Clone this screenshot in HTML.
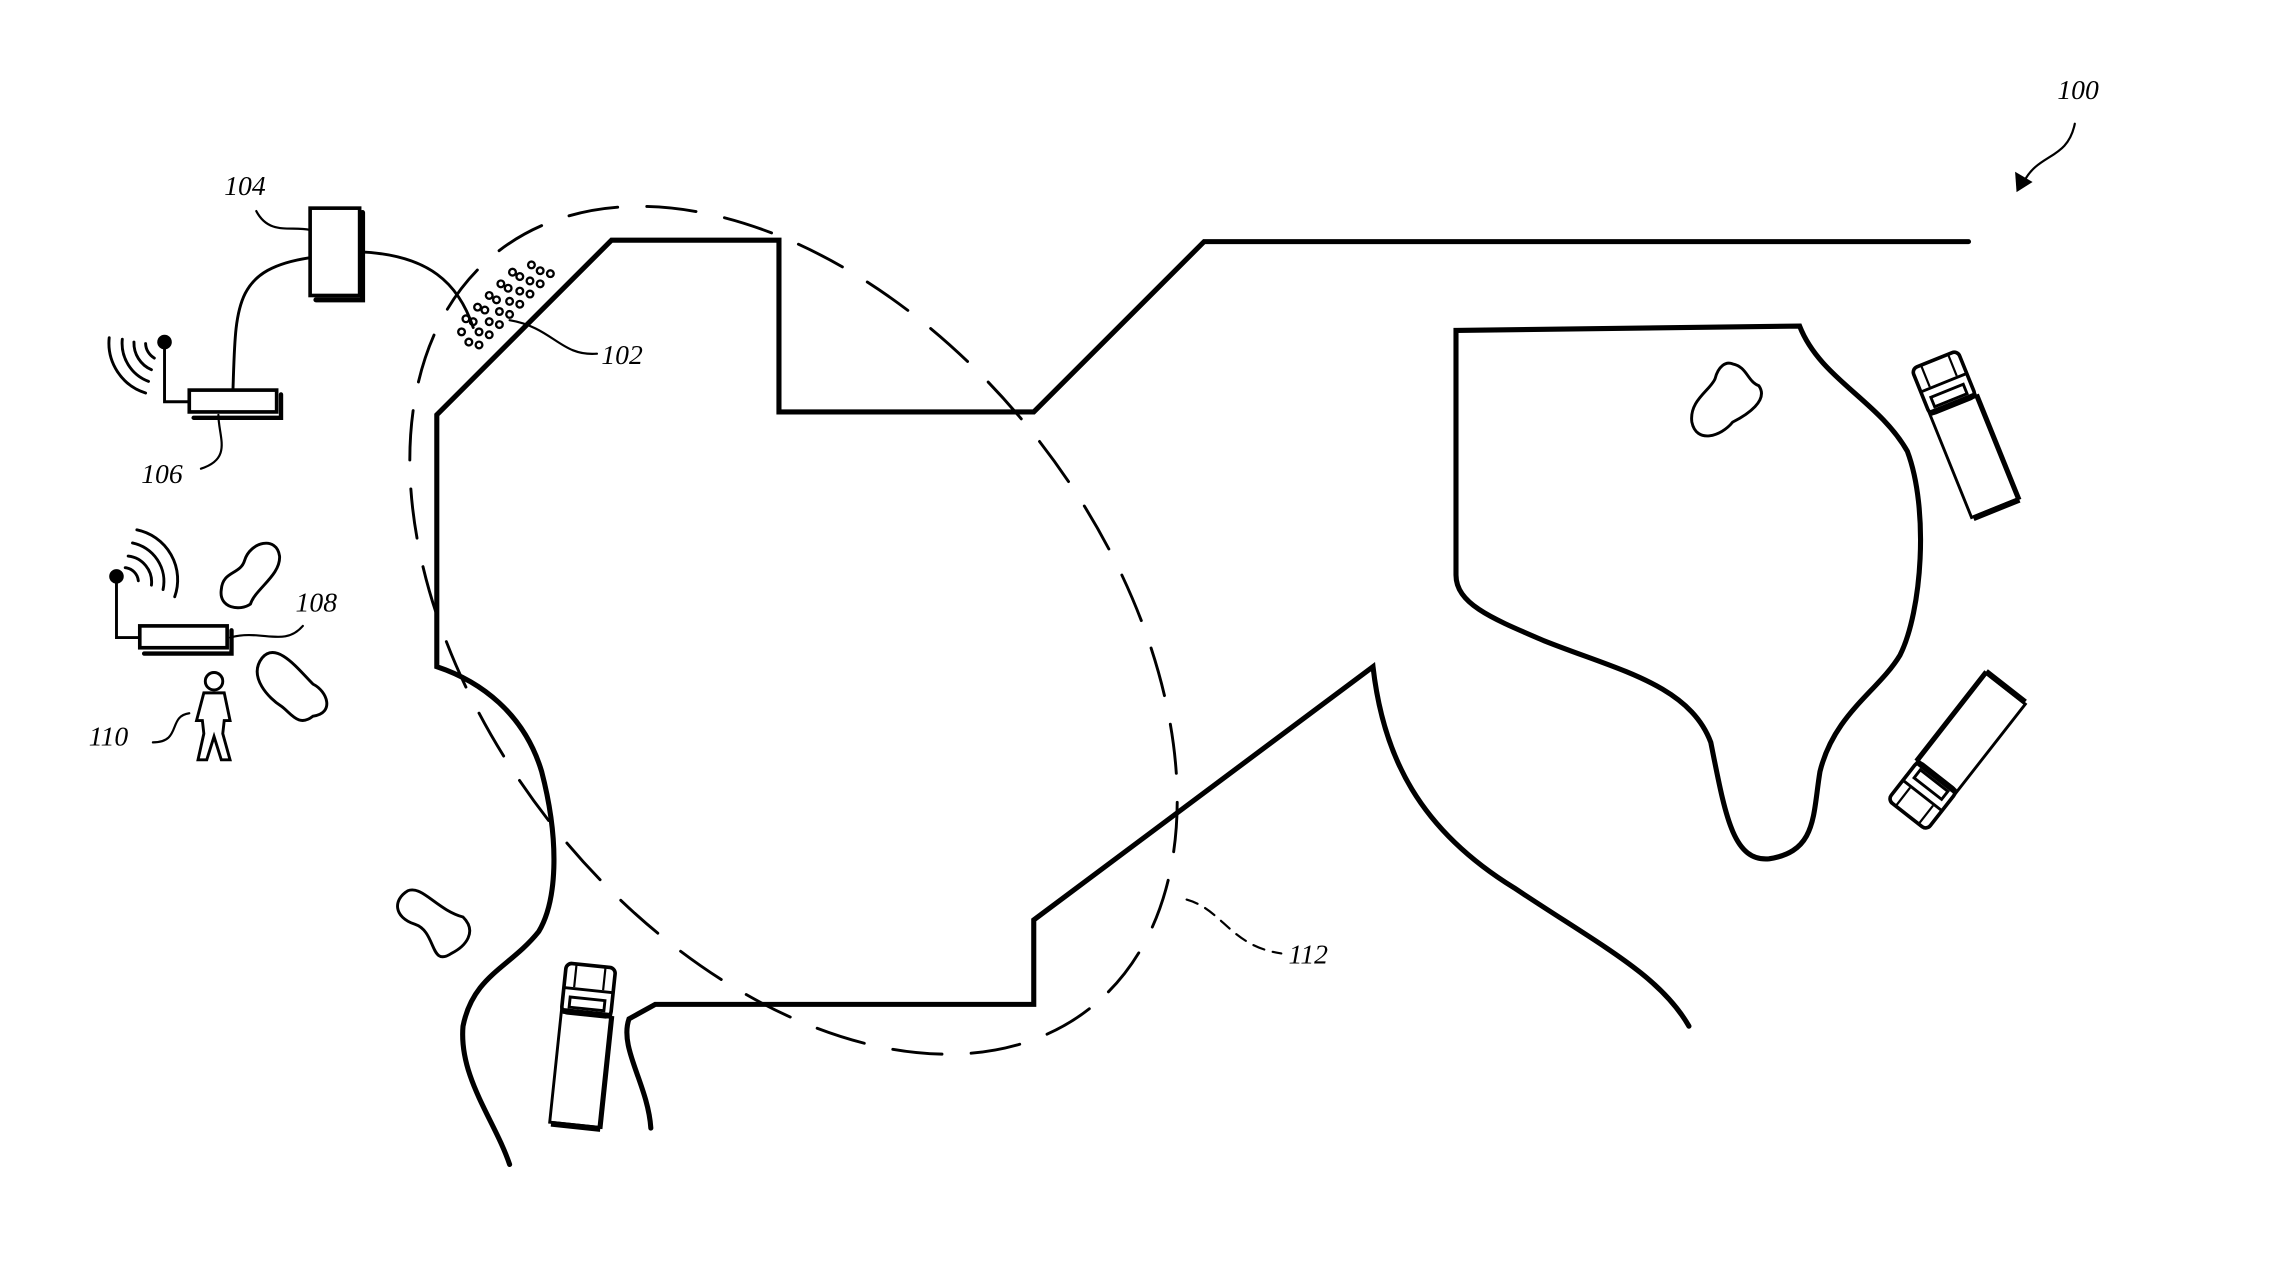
<!DOCTYPE html>
<html><head><meta charset="utf-8"><style>html,body{margin:0;padding:0;background:#fff}svg{display:block}</style></head><body>
<svg width="2283" height="1262" viewBox="0 0 1568 867" preserveAspectRatio="none" xmlns="http://www.w3.org/2000/svg">
<defs>
<g id="truck">
<rect x="-17" y="-25" width="34" height="78" fill="#fff" stroke="#000" stroke-width="2"/>
<line x1="18" y1="-24" x2="18" y2="54" stroke="#000" stroke-width="3"/>
<line x1="-16" y1="54" x2="18" y2="54" stroke="#000" stroke-width="4"/>
<rect x="-17" y="-57" width="34" height="34" rx="4" fill="#fff" stroke="#000" stroke-width="2.5"/>
<line x1="-16" y1="-40" x2="16" y2="-40" stroke="#000" stroke-width="2"/>
<rect x="-12" y="-34" width="24" height="7" fill="#fff" stroke="#000" stroke-width="2"/>
<line x1="-10" y1="-56" x2="-10" y2="-41" stroke="#000" stroke-width="1.5"/>
<line x1="10" y1="-56" x2="10" y2="-41" stroke="#000" stroke-width="1.5"/>
<line x1="-16" y1="-24" x2="17" y2="-24" stroke="#000" stroke-width="4"/>
</g>
</defs>
<g fill="none" stroke="#000" stroke-linecap="round" stroke-linejoin="miter">
<path d="M1352,166 L827,166 L710,283 L535,283 L535,165 L420,165 L300,285 L300,458 C330,468 360,490 372,530 C385,580 382,620 370,640 C350,665 325,670 318,705 C315,740 340,770 350,800" stroke-width="3.5"/>
<path d="M447,775 C445,745 425,720 432,700 L450,690 L710,690 L710,632 L943,458 C950,520 975,570 1040,610 C1100,650 1140,670 1160,705" stroke-width="3.5"/>
<path d="M1000,227 L1236,224 C1250,260 1290,275 1310,310 C1325,350 1320,420 1305,450 C1290,475 1260,490 1250,530 C1245,560 1248,585 1215,590 C1190,592 1185,560 1175,510 C1160,470 1110,460 1060,440 C1025,425 1000,415 1000,395 Z" stroke-width="3.5"/>
<ellipse cx="545" cy="433" rx="330" ry="213" transform="rotate(52 545 433)" stroke-width="2" stroke-dasharray="34 20"/>
<path d="M815,618 C840,625 845,650 880,655" stroke-width="1.5" stroke-dasharray="8 6"/>
<path d="M350,220 C380,225 385,245 410,243" stroke-width="1.5"/>
<path d="M1425,85 C1420,110 1400,105 1390,125" stroke-width="1.5"/>
<path d="M176,145 C185,162 200,155 213,158" stroke-width="1.5"/>
<path d="M213,177 C160,185 162,210 160,268" stroke-width="2"/>
<path d="M247,173 C295,175 315,195 325,225" stroke-width="2"/>
<path d="M150,285 C150,300 160,315 138,322" stroke-width="1.5"/>
<path d="M158,438 C180,432 195,445 208,430" stroke-width="1.5"/>
<path d="M130,490 C115,492 125,510 105,510" stroke-width="1.5"/>
<path d="M168,385 C172,372 190,368 192,382 C193,395 175,405 172,415 C165,420 150,418 152,405 C153,392 165,395 168,385 Z" stroke-width="2"/>
<path d="M180,452 C190,440 205,460 215,470 C225,475 230,490 215,492 C205,500 200,490 193,485 C185,480 170,465 180,452 Z" stroke-width="2"/>
<path d="M280,612 C290,608 300,625 318,630 C328,640 320,650 310,655 C295,665 300,640 285,635 C270,630 270,618 280,612 Z" stroke-width="2"/>
<path d="M1190,250 C1200,252 1200,262 1208,265 C1215,275 1200,285 1190,290 C1182,300 1165,305 1162,290 C1160,275 1175,268 1178,260 C1180,252 1185,248 1190,250 Z" stroke-width="2"/>
<rect x="213" y="143" width="34" height="60" fill="#fff" stroke-width="2.5"/>
<path d="M249,146 L249,206 L217,206" stroke-width="3.5"/>
<rect x="130" y="268" width="60" height="15" fill="#fff" stroke-width="2.5"/>
<path d="M193,271 L193,287 L133,287" stroke-width="3"/>
<path d="M130,276 L113,276 L113,236" stroke-width="2"/>
<rect x="96" y="430" width="60" height="15" fill="#fff" stroke-width="2.5"/>
<path d="M159,433 L159,449 L99,449" stroke-width="3"/>
<path d="M96,438 L80,438 L80,397" stroke-width="2"/>
<g stroke-width="2">
<path d="M106,246 A12,12 0 0 1 100,236"/><path d="M104,254 A20,20 0 0 1 92,235"/><path d="M102,262 A28,28 0 0 1 84,233"/><path d="M100,270 A36,36 0 0 1 75,232"/>
<path d="M86,390 A10,10 0 0 1 95,399"/><path d="M88,382 A18,18 0 0 1 104,402"/><path d="M91,373 A27,27 0 0 1 112,405"/><path d="M94,364 A35,35 0 0 1 120,410"/>
</g>
<circle cx="147" cy="468" r="6" fill="#fff" stroke-width="2"/>
<path d="M140,476 L154,476 L158,495 L154,495 L153,504 L158,522 L152,522 L147,506 L142,522 L136,522 L140,504 L139,495 L135,495 Z" fill="#fff" stroke-width="2"/>
</g>
<circle cx="113" cy="235" r="5" fill="#000"/>
<circle cx="80" cy="396" r="5" fill="#000"/>
<g fill="none" stroke="#000" stroke-width="1.6">
<circle cx="378" cy="188" r="2.3"/><circle cx="371" cy="195" r="2.3"/><circle cx="364" cy="202" r="2.3"/><circle cx="357" cy="209" r="2.3"/><circle cx="350" cy="216" r="2.3"/><circle cx="343" cy="223" r="2.3"/><circle cx="336" cy="230" r="2.3"/><circle cx="329" cy="237" r="2.3"/>
<circle cx="371" cy="186" r="2.3"/><circle cx="364" cy="193" r="2.3"/><circle cx="357" cy="200" r="2.3"/><circle cx="350" cy="207" r="2.3"/><circle cx="343" cy="214" r="2.3"/><circle cx="336" cy="221" r="2.3"/><circle cx="329" cy="228" r="2.3"/><circle cx="322" cy="235" r="2.3"/>
<circle cx="365" cy="182" r="2.3"/><circle cx="357" cy="190" r="2.3"/><circle cx="349" cy="198" r="2.3"/><circle cx="341" cy="206" r="2.3"/><circle cx="333" cy="213" r="2.3"/><circle cx="325" cy="221" r="2.3"/><circle cx="317" cy="228" r="2.3"/>
<circle cx="352" cy="187" r="2.3"/><circle cx="344" cy="195" r="2.3"/><circle cx="336" cy="203" r="2.3"/><circle cx="328" cy="211" r="2.3"/><circle cx="320" cy="219" r="2.3"/>
</g>
<path d="M1385,132 L1384,118 L1396,125 Z" fill="#000"/>
<use href="#truck" transform="translate(1350,300) rotate(-22)"/>
<use href="#truck" transform="translate(1345,515) rotate(218)"/>
<use href="#truck" transform="translate(400,720) rotate(6)"/>
<g font-family="Liberation Serif, serif" font-style="italic" font-size="19" fill="#000">
<text x="1413" y="68">100</text>
<text x="154" y="134">104</text>
<text x="413" y="250">102</text>
<text x="97" y="332">106</text>
<text x="203" y="420">108</text>
<text x="61" y="512">110</text>
<text x="885" y="662">112</text>
</g>
</svg>
</body></html>
